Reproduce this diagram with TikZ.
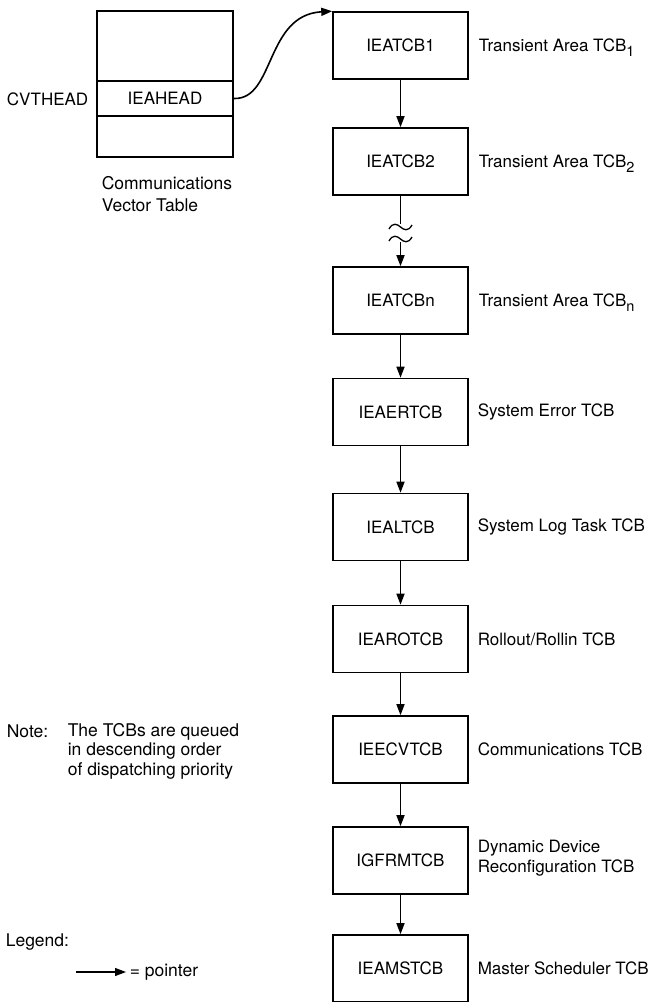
\documentclass[tikz,border=0pt]{standalone}
\usepackage{fontspec}
\setmainfont{TeX Gyre Heros}
\usetikzlibrary{arrows.meta}
\newcommand\sbs[1]{\raisebox{-0.55ex}{\fontsize{14.5}{15}\selectfont #1}}
\begin{document}
\begin{tikzpicture}[x=1pt,y=-1pt, line width=1.6pt,
  font=\fontsize{17}{20}\selectfont,
  tcb/.style={draw, minimum width=135pt, minimum height=67pt, inner sep=0pt, font=\fontsize{17}{20}\selectfont},
  cvtrow/.style={draw, minimum width=136pt, inner sep=0pt, font=\fontsize{17}{20}\selectfont},
  ptr/.style={-{Triangle[length=11pt,width=8pt]}},
  lbl/.style={anchor=west, inner sep=0pt, align=left},
  brk/.style={line width=1.3pt}]
\useasboundingbox (0,0) rectangle (657,1002);

% Communications Vector Table
\node[cvtrow, minimum height=70pt] (cvta) at (165,46) {};
\node[cvtrow, minimum height=35pt] (cvtb) at (165,98.5) {IEAHEAD};
\node[cvtrow, minimum height=41pt] (cvtc) at (165,136.5) {};
\node (cvth) at (47.5,99) {CVTHEAD};
\node[lbl, font=\fontsize{17.5}{22}\selectfont] (cvtl) at (101,194) {Communications\\Vector Table};

% TCB chain
\node[tcb] (t1) at (400.5,45.5) {IEATCB1};
\node[tcb] (t2) at (400.5,161.5) {IEATCB2};
\node[tcb] (tn) at (400.5,300.5) {IEATCBn};
\node[tcb] (ert) at (400.5,412) {IEAERTCB};
\node[tcb] (lt) at (400.5,527) {IEALTCB};
\node[tcb] (rot) at (400.5,639) {IEAROTCB};
\node[tcb] (ecv) at (400.5,749.5) {IEECVTCB};
\node[tcb] (gfr) at (400.5,860.5) {IGFRMTCB};
\node[tcb] (ams) at (400.5,968.5) {IEAMSTCB};

% labels
\node[lbl] (l1) at (478,48) {Transient Area TCB\sbs{1}};
\node[lbl] (l2) at (478,164) {Transient Area TCB\sbs{2}};
\node[lbl] (l3) at (478,303) {Transient Area TCB\sbs{n}};
\node[lbl] (l4) at (477,412) {System Error TCB};
\node[lbl] (l5) at (477,527) {System Log Task TCB};
\node[lbl] (l6) at (477,639) {Rollout/Rollin TCB};
\node[lbl] (l7) at (477,749.5) {Communications TCB};
\node[lbl] (l8) at (477,858) {Dynamic Device\\Reconfiguration TCB};
\node[lbl] (l9) at (477,968.5) {Master Scheduler TCB};

% connectors
\draw[ptr] (cvtb.east) .. controls (275,100) and (265,15) .. (t1.north west);
\draw[ptr] (t1.south) -- (t2.north);
\coordinate (b1) at (400.5,224);
\coordinate (b2) at (400.5,242);
\draw (t2.south) -- (b1);
\draw[ptr] (b2) -- (tn.north);
\draw[brk] (389,229) .. controls (393,222) and (397,224) .. (400.5,227) .. controls (404,230) and (408,232) .. (412,225);
\draw[brk] (389,241) .. controls (393,234) and (397,236) .. (400.5,239) .. controls (404,242) and (408,244) .. (412,237);
\draw[ptr] (tn.south) -- (ert.north);
\draw[ptr] (ert.south) -- (lt.north);
\draw[ptr] (lt.south) -- (rot.north);
\draw[ptr] (rot.south) -- (ecv.north);
\draw[ptr] (ecv.south) -- (gfr.north);
\draw[ptr] (gfr.south) -- (ams.north);

% note
\node[lbl, font=\fontsize{17.5}{20}\selectfont] (note) at (6,731) {Note:};
\node[lbl, font=\fontsize{17.5}{19.5}\selectfont] (notetxt) at (67,751) {The TCBs are queued\\in descending order\\of dispatching priority};

% legend
\node[lbl, font=\fontsize{17.5}{20}\selectfont] (leg) at (5,942) {Legend:};
\coordinate (la) at (76,972);
\coordinate (lb) at (126,972);
\draw[ptr, line width=1.1pt] (la) -- (lb);
\node[lbl, font=\fontsize{17.5}{20}\selectfont] (legtxt) at (129,972) {= pointer};
\end{tikzpicture}
\end{document}
